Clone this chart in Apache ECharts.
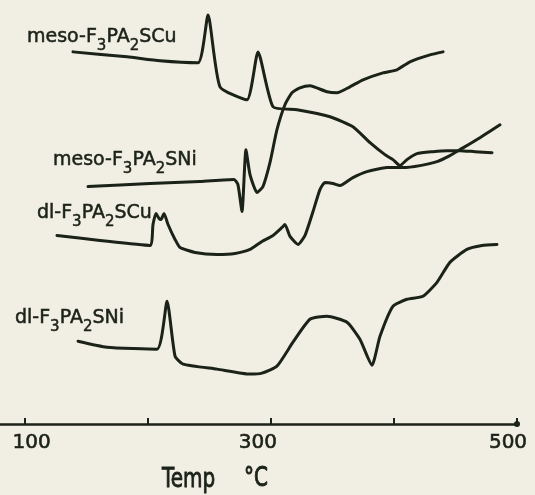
<!DOCTYPE html>
<html>
<head>
<meta charset="utf-8">
<script src="https://cdn.jsdelivr.net/npm/echarts@6/dist/echarts.min.js"></script>
<style>
html,body{margin:0;padding:0;background:#f1eee4;}
#c{width:535px;height:495px;}
</style>
</head>
<body>
<div id="c"></div>
<script>
// Temperature axis (°C)
const xTickValues = [100, 200, 300, 400, 500];
const xLabelValues = [100, 300, 500];

// Curve labels (name parts: text, subscript, text, subscript, text)
const labelMesoCu = ['meso-F', '3', 'PA', '2', 'SCu'];
const labelMesoNi = ['meso-F', '3', 'PA', '2', 'SNi'];
const labelDlCu   = ['dl-F', '3', 'PA', '2', 'SCu'];
const labelDlNi   = ['dl-F', '3', 'PA', '2', 'SNi'];

// Thermal curves: [temperature °C, signal (arbitrary units)]
const mesoCu = [[139.3,373],[183.2,368],[210.0,364],[240.8,362],[249.0,410],[258.7,338],[280.6,325],[289.6,373],[301.8,318],[321.3,315],[348.1,308],[366.7,298],[380.6,282],[392.7,270],[399.2,265],[404.9,259],[410.6,265],[418.7,271],[431.7,273],[443.1,274],[453.7,274],[465.8,273],[479.7,272]];
const mesoNi = [[151.5,238],[201.8,241],[242.5,243],[270.1,245],[273.3,240],[276.6,213],[279.8,275],[283.1,250],[288.8,232],[293.6,238],[299.3,262],[305.0,295],[311.5,320],[317.2,332],[323.7,337],[331.8,339],[345.6,333],[353.7,332],[364.3,338],[374.9,345],[391.1,352],[402.5,355],[413.0,363],[429.3,370],[439.9,373]];
const dlCu = [[126.3,189],[161.2,184],[201.8,179],[204.3,200],[206.7,211],[209.2,206],[210.8,205],[213.2,211],[216.5,200],[222.2,185],[226.2,177],[238.4,172],[256.3,170],[270.9,171],[283.1,175],[292.8,183],[301.8,189],[309.1,197],[311.5,200],[315.6,188],[322.1,180],[327.8,189],[334.3,213],[339.9,235],[344.0,242],[350.5,241],[356.2,239],[366.7,247],[378.1,253],[394.4,257],[407.4,257],[421.2,259],[435.0,263],[445.5,269],[453.7,275],[469.9,287],[486.2,300]];
const dlNi = [[143.4,83],[166.9,77],[207.5,75],[215.7,123],[222.2,68],[228.7,60],[256.3,55],[283.1,50],[292.8,51],[305.0,58],[318.0,82],[331.8,105],[345.6,108],[361.9,102],[372.4,85],[382.2,59],[388.7,88],[399.2,118],[410.6,125],[423.6,128],[435.0,142],[445.5,162],[459.3,175],[471.5,179],[483.7,180]];

const INK = '#1b2218';
const FONT = "'DejaVu Sans', 'Noto Sans', sans-serif";

function richName(parts) {
  return '{m|' + parts[0] + '}{s|' + parts[1] + '}{m|' + parts[2] + '}{s|' + parts[3] + '}{m|' + parts[4] + '}';
}
const nameRich = {
  m: { fontSize: 19, lineHeight: 23, verticalAlign: 'top', fontFamily: FONT, fill: INK, color: INK, stroke: INK, lineWidth: 0.5 },
  s: { fontSize: 15, lineHeight: 26, verticalAlign: 'bottom', fontFamily: FONT, fill: INK, color: INK, stroke: INK, lineWidth: 0.5 }
};
function nameText(parts, x, y) {
  return {
    type: 'text', x: x, y: y, z: 10,
    style: { text: richName(parts), rich: nameRich, fill: INK, stroke: INK, lineWidth: 0.5, font: '19px ' + FONT, verticalAlign: 'top', align: 'left' }
  };
}

function lineSeries(name, data) {
  return {
    name: name, type: 'line', data: data, showSymbol: false, smooth: 0.18,
    lineStyle: { color: INK, width: 3, cap: 'round', join: 'round' },
    emphasis: { disabled: true }, silent: true, animation: false
  };
}

const labelBase = { fontSize: 20, fontFamily: FONT, color: INK, textBorderColor: INK, textBorderWidth: 0.6 };

const chart = echarts.init(document.getElementById('c'), null, { renderer: 'canvas' });
chart.setOption({
  backgroundColor: '#f1eee4',
  animation: false,
  grid: { left: 0, right: 18, top: 0, bottom: 71, containLabel: false },
  xAxis: {
    type: 'value', min: 80, max: 500,
    splitLine: { show: false },
    axisLine: { show: true, onZero: false, lineStyle: { color: INK, width: 2.5 }, symbol: ['none', 'circle'], symbolSize: [6, 6] },
    axisTick: { show: true, inside: true, length: 6, customValues: xTickValues, lineStyle: { color: INK, width: 2 } },
    axisLabel: {
      show: true, margin: 9, color: INK, fontSize: 20, fontFamily: FONT,
      customValues: xLabelValues,
      formatter: function (v) {
        if (v === 100) return '{a|' + v + '}';
        if (v === 300) return '{b|' + v + '}';
        return '{c|' + v + '}';
      },
      rich: {
        a: Object.assign({ padding: [0, 0, 0, 14] }, labelBase),
        b: Object.assign({ padding: [0, 26, 0, 0] }, labelBase),
        c: Object.assign({ padding: [0, 18, 0, 0] }, labelBase)
      }
    }
  },
  yAxis: { type: 'value', min: 0, max: 425, show: false, splitLine: { show: false } },
  series: [
    lineSeries('meso-F3PA2SCu', mesoCu),
    lineSeries('meso-F3PA2SNi', mesoNi),
    lineSeries('dl-F3PA2SCu', dlCu),
    lineSeries('dl-F3PA2SNi', dlNi)
  ],
  graphic: [
    nameText(labelMesoCu, 27, 28),
    nameText(labelMesoNi, 53, 151),
    nameText(labelDlCu, 37, 204),
    nameText(labelDlNi, 15, 309),
    { type: 'text', x: 162, y: 464, scaleY: 1.35, z: 10,
      style: { text: 'Temp', font: '20px ' + FONT, lineHeight: 24, fill: INK, stroke: INK, lineWidth: 0.7, verticalAlign: 'top', align: 'left' } },
    { type: 'text', x: 244, y: 464, scaleY: 1.3, z: 10,
      style: { text: '°C', font: '20px ' + FONT, lineHeight: 24, fill: INK, stroke: INK, lineWidth: 0.7, verticalAlign: 'top', align: 'left' } }
  ]
});
</script>
</body>
</html>
